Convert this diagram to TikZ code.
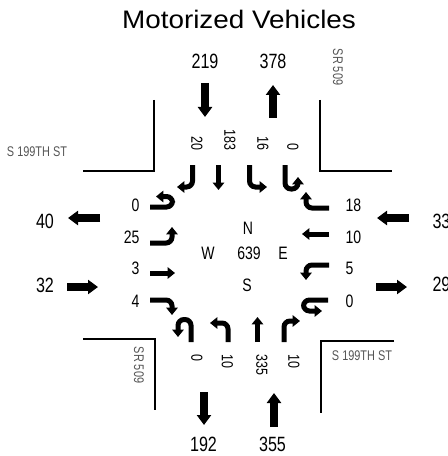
\documentclass[tikz,border=0pt]{standalone}
\usepackage{fontspec}
\setmainfont{Liberation Sans}
\newfontfamily\narrowfont[FakeStretch=0.78]{Liberation Sans}
\usetikzlibrary{arrows.meta}
\definecolor{streetgray}{HTML}{555555}
\tikzset{every picture/.style={line width=0.75pt}}
\tikzset{
  lanearrow/.style={line width=3.75pt, rounded corners=4.5pt, -{Triangle[length=5.5pt,width=8.5pt]}},
  volarrow/.style={line width=6pt, -{Triangle[length=7.5pt,width=10.5pt]}},
  curb/.style={line width=1.6pt},
  bignum/.style={inner sep=0.75pt, font=\narrowfont\fontsize{15.5}{18}\selectfont},
  lanenum/.style={inner sep=0.75pt, font=\narrowfont\fontsize{13.5}{16}\selectfont},
  turnnum/.style={inner sep=0.75pt, rotate=-90, font=\narrowfont\fontsize{12}{14}\selectfont},
  street/.style={inner sep=0.75pt, text=streetgray, font=\narrowfont\fontsize{10.5}{12}\selectfont}
}

\begin{document}
\begin{tikzpicture}[x=0.75pt,y=0.75pt,yscale=-1,xscale=1]
	\useasboundingbox (0,0) rectangle (448,456);
	
	%Curb corners
	\draw [curb] (154,100) -- (154,171) -- (83,171) ;
	\draw [curb] (320,100) -- (320,171) -- (392,171) ;
	\draw [curb] (83,339) -- (155,339) -- (155,410) ;
	\draw [curb] (394,341) -- (321,341) -- (321,413) ;
	
	%Approach volumes
	\draw [volarrow] (205,83) -- (205,117) ;
	\draw [volarrow] (273,118) -- (273,85) ;
	\draw [volarrow] (204,392) -- (204,425) ;
	\draw [volarrow] (274,427) -- (274,393) ;
	\draw [volarrow] (100,218) -- (68,218) ;
	\draw [volarrow] (67,287) -- (98,287) ;
	\draw [volarrow] (409,218) -- (377,218) ;
	\draw [volarrow] (376,287) -- (407,287) ;
	
	%Southbound lanes
	\draw [lanearrow] (192.5,165) -- (192.5,187) -- (177,187) ;
	\draw [lanearrow] (218.5,165) -- (218.5,190) ;
	\draw [lanearrow] (249.5,165) -- (249.5,187) -- (267,187) ;
	\draw [lanearrow] (285,165) -- (285,189) -- (298,189) -- (298,177) ;
	%Eastbound lanes
	\draw [lanearrow] (150,207) -- (172.5,207) -- (172.5,196.5) -- (156,196.5) ;
	\draw [lanearrow] (150,243) -- (172,243) -- (172,227) ;
	\draw [lanearrow] (150,273) -- (175,273) ;
	\draw [lanearrow] (150,300) -- (172,300) -- (172,315) ;
	%Westbound lanes
	\draw [lanearrow] (329,208) -- (306,208) -- (306,192) ;
	\draw [lanearrow] (329,234) -- (302,234) ;
	\draw [lanearrow] (329,265) -- (306,265) -- (306,280) ;
	\draw [lanearrow] (328,300) -- (303.5,300) -- (303.5,311) -- (322,311) ;
	%Northbound lanes
	\draw [lanearrow] (191,342) -- (191,319.5) -- (178,319.5) -- (178,337) ;
	\draw [lanearrow] (228,342) -- (228,323) -- (210,323) ;
	\draw [lanearrow] (257.5,342) -- (257.5,317) ;
	\draw [lanearrow] (284,342) -- (284,321) -- (300,321) ;
	
	% Text Node
	\draw (239,19) node [inner sep=0.75pt] (title) {\fontsize{19}{22}\selectfont\scalebox{1.1}[1]{Motorized Vehicles}};
	% Text Node
	\draw (205,61) node [bignum] (nIn) {219};
	% Text Node
	\draw (273,61) node [bignum] (nOut) {378};
	% Text Node
	\draw (203.5,444.5) node [bignum] (sOut) {192};
	% Text Node
	\draw (272.5,444.5) node [bignum] (sIn) {355};
	% Text Node
	\draw (45,221) node [bignum] (wOut) {40};
	% Text Node
	\draw (45,285) node [bignum] (wIn) {32};
	% Text Node
	\draw (431,221) node [bignum, anchor=west] (eIn) {33};
	% Text Node
	\draw (431,284) node [bignum, anchor=west] (eOut) {29};
	
	% Text Node
	\draw (141,205) node [lanenum, anchor=east] (ebU) {0};
	% Text Node
	\draw (141,237) node [lanenum, anchor=east] (ebL) {25};
	% Text Node
	\draw (141,268) node [lanenum, anchor=east] (ebT) {3};
	% Text Node
	\draw (141,301) node [lanenum, anchor=east] (ebR) {4};
	% Text Node
	\draw (344,205) node [lanenum, anchor=west] (wbR) {18};
	% Text Node
	\draw (344,237) node [lanenum, anchor=west] (wbT) {10};
	% Text Node
	\draw (344,268) node [lanenum, anchor=west] (wbL) {5};
	% Text Node
	\draw (344,301) node [lanenum, anchor=west] (wbU) {0};
	
	% Text Node
	\draw (197,152) node [turnnum, anchor=east] (sbR) {20};
	% Text Node
	\draw (230,152) node [turnnum, anchor=east] (sbT) {183};
	% Text Node
	\draw (263,152) node [turnnum, anchor=east] (sbL) {16};
	% Text Node
	\draw (293,152) node [turnnum, anchor=east] (sbU) {0};
	% Text Node
	\draw (197,353) node [turnnum, anchor=west] (nbU) {0};
	% Text Node
	\draw (227.5,353) node [turnnum, anchor=west] (nbL) {10};
	% Text Node
	\draw (262,353) node [turnnum, anchor=west] (nbT) {335};
	% Text Node
	\draw (294,353) node [turnnum, anchor=west] (nbR) {10};
	
	% Text Node
	\draw (248,228) node [lanenum] (north) {N};
	% Text Node
	\draw (249,253) node [lanenum] (total) {639};
	% Text Node
	\draw (208,253) node [lanenum] (west) {W};
	% Text Node
	\draw (283,253) node [lanenum] (east) {E};
	% Text Node
	\draw (247,285) node [lanenum] (south) {S};
	
	% Text Node
	\draw (37,152) node [street] (streetNW) {S 199TH ST};
	% Text Node
	\draw (338,67) node [street, rotate=-90] (streetNE) {SR 509};
	% Text Node
	\draw (139,365) node [street, rotate=-90] (streetSW) {SR 509};
	% Text Node
	\draw (362,356) node [street] (streetSE) {S 199TH ST};
	
\end{tikzpicture}
\end{document}
